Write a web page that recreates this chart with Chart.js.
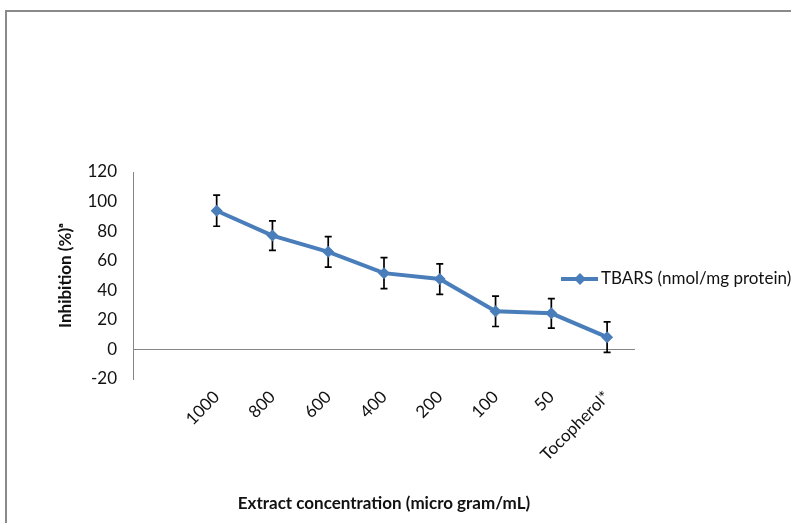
<!DOCTYPE html>
<html lang="en">
<head>
    <meta charset="UTF-8">
    <title>Inhibition vs extract concentration</title>
    <style>
        body { margin: 0; background: #fff; }
        #wrap { position: relative; width: 791px; height: 523px; overflow: hidden; }
        #frame { position: absolute; left: 5px; top: 10px; width: 800px; height: 600px;
                 border-top: 2px solid #8a8a8a; border-left: 2px solid #8a8a8a; }
    </style>
</head>
<body>
    <div id="wrap">
        <canvas id="myChart" width="791" height="523"></canvas>
        <div id="frame"></div>
    </div>

    <script src="https://cdn.jsdelivr.net/npm/chart.js"></script>
    <script>
        // data
        const concentrations = ["", "1000", "800", "600", "400", "200", "100", "50", "Tocopherol*"];
        const inhibition = [null, 93.8, 77.0, 66.0, 51.6, 47.6, 25.8, 24.4, 8.3];
        const errors = [null, 10.5, 10.0, 10.3, 10.5, 10.3, 10.3, 10.0, 10.3];
        const seriesName = "TBARS (nmol/mg protein)";

        const blue = "rgb(74,126,187)";
        const axisGray = "#868686";
        const fontFamily = "Lato, 'Liberation Sans', sans-serif";
        const fontSize = 17;

        // error bars drawn behind the line
        const errorBars = {
            id: "errorBars",
            beforeDatasetsDraw(chart) {
                const ctx = chart.ctx;
                const meta = chart.getDatasetMeta(0);
                const y = chart.scales.y;
                ctx.save();
                ctx.strokeStyle = "#000";
                ctx.lineWidth = 1.7;
                meta.data.forEach((pt, i) => {
                    if (inhibition[i] == null) return;
                    const top = y.getPixelForValue(inhibition[i] + errors[i]);
                    const bot = y.getPixelForValue(inhibition[i] - errors[i]);
                    ctx.beginPath();
                    ctx.moveTo(pt.x, top); ctx.lineTo(pt.x, bot);
                    ctx.moveTo(pt.x - 3.5, top); ctx.lineTo(pt.x + 3.5, top);
                    ctx.moveTo(pt.x - 3.5, bot); ctx.lineTo(pt.x + 3.5, bot);
                    ctx.stroke();
                });
                ctx.restore();
            }
        };

        // excel style legend sitting beside the plot
        const sideLegend = {
            id: "sideLegend",
            afterDraw(chart, args, opts) {
                const ctx = chart.ctx;
                const ds = chart.data.datasets[0];
                const x0 = opts.x, yc = opts.y;
                ctx.save();
                ctx.strokeStyle = ds.borderColor;
                ctx.lineWidth = ds.borderWidth;
                ctx.beginPath();
                ctx.moveTo(x0, yc); ctx.lineTo(x0 + 37, yc);
                ctx.stroke();
                const cx = x0 + 19, r = ds.pointRadius;
                ctx.fillStyle = ds.pointBackgroundColor;
                ctx.beginPath();
                ctx.moveTo(cx, yc - r); ctx.lineTo(cx + r, yc);
                ctx.lineTo(cx, yc + r); ctx.lineTo(cx - r, yc);
                ctx.closePath();
                ctx.fill();
                ctx.fillStyle = "#111";
                ctx.font = fontSize + "px " + fontFamily;
                ctx.textBaseline = "middle";
                ctx.fillText(ds.label, x0 + 40, yc);
                ctx.restore();
            }
        };

        const ctx = document.getElementById("myChart");
        new Chart(ctx, {
            type: "line",
            data: {
                labels: concentrations,
                datasets: [{
                    label: seriesName,
                    data: inhibition,
                    borderColor: blue,
                    borderWidth: 4,
                    pointStyle: "rectRot",
                    pointRadius: 6,
                    pointBackgroundColor: blue,
                    pointBorderColor: blue,
                    pointBorderWidth: 0,
                    tension: 0,
                    spanGaps: false
                }]
            },
            options: {
                responsive: false,
                animation: false,
                layout: { padding: { left: 55, right: 156, top: 172, bottom: 9 } },
                plugins: {
                    legend: { display: false },
                    tooltip: { enabled: false },
                    sideLegend: { x: 561, y: 279 }
                },
                scales: {
                    x: {
                        offset: true,
                        grid: { display: false },
                        border: { display: false },
                        afterFit(scale) { scale.height = 135; },
                        ticks: {
                            autoSkip: false,
                            maxRotation: 45,
                            minRotation: 45,
                            padding: 0,
                            color: "#111",
                            font: { family: fontFamily, size: fontSize }
                        },
                        title: {
                            display: true,
                            text: "Extract concentration (micro gram/mL)",
                            color: "#111",
                            padding: 0,
                            font: { family: fontFamily, size: fontSize, weight: "bold" }
                        }
                    },
                    y: {
                        min: -20,
                        max: 120,
                        afterFit(scale) { scale.width = 78; },
                        ticks: {
                            stepSize: 20,
                            padding: 16,
                            color: "#111",
                            font: { family: fontFamily, size: fontSize }
                        },
                        grid: {
                            drawTicks: false,
                            lineWidth: 1,
                            color: (c) => (c.tick && c.tick.value === 0 ? axisGray : "rgba(0,0,0,0)")
                        },
                        border: { display: true, color: axisGray, width: 1 },
                        title: {
                            display: true,
                            text: "Inhibition (%)ᵃ",
                            color: "#111",
                            padding: 0,
                            font: { family: fontFamily, size: fontSize, weight: "bold" }
                        }
                    }
                }
            },
            plugins: [errorBars, sideLegend]
        });
    </script>
</body>
</html>
